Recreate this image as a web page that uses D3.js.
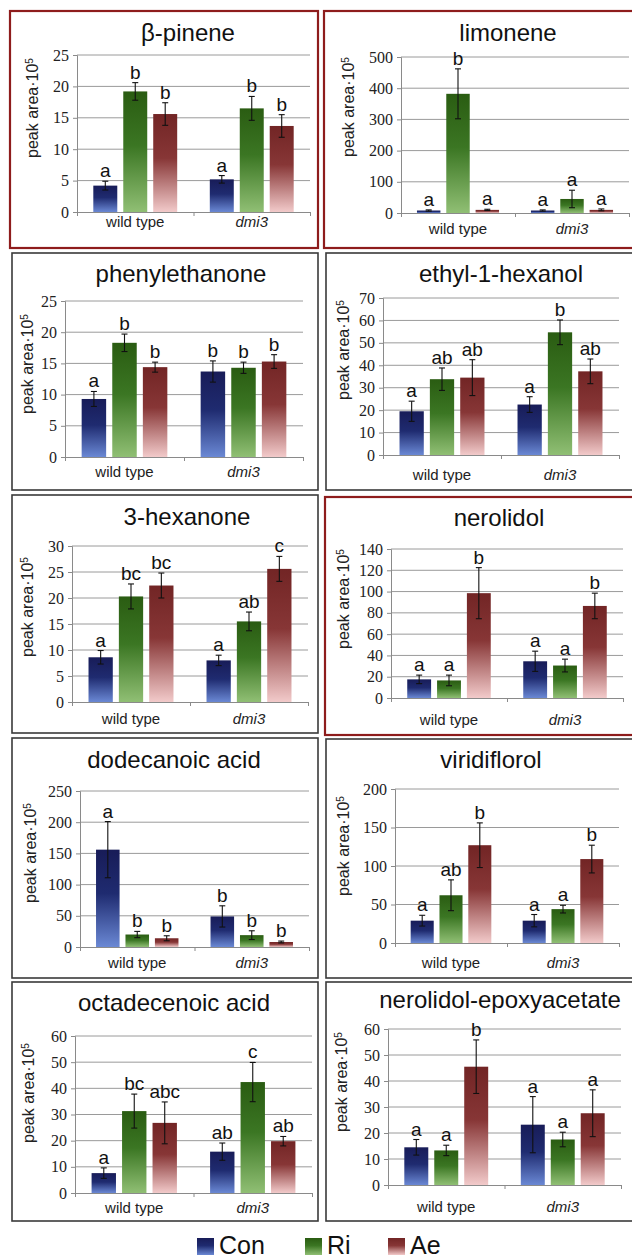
<!DOCTYPE html>
<html>
<head>
<meta charset="utf-8">
<script src="https://cdn.jsdelivr.net/npm/d3@7"></script>
<style>
  body { margin: 0; background: #fff; }
  svg { display: block; }
</style>
</head>
<body>
<div id="chart"></div>
<script>
// groups on the x axis and the three treatments
var categories = ["wild type", "dmi3"];
var series = ["Con", "Ri", "Ae"];

var compounds = ["β-pinene", "limonene", "phenylethanone", "ethyl-1-hexanol", "3-hexanone",
  "nerolidol", "dodecanoic acid", "viridiflorol", "octadecenoic acid", "nerolidol-epoxyacetate"];

var yMax = [25, 500, 25, 70, 30, 140, 250, 200, 60, 60];
var yStep = [5, 100, 5, 10, 5, 20, 50, 50, 10, 10];

// means: wild type Con, Ri, Ae, then dmi3 Con, Ri, Ae
var means = [
  [4.2, 19.2, 15.6, 5.2, 16.5, 13.7],
  [8, 382, 10, 8, 45, 10],
  [9.3, 18.3, 14.4, 13.7, 14.3, 15.3],
  [19.5, 33.8, 34.5, 22.5, 54.7, 37.3],
  [8.6, 20.3, 22.4, 8.0, 15.5, 25.6],
  [17.5, 16.5, 98.5, 34.5, 30.5, 86.5],
  [156, 20, 14, 49, 19, 8],
  [29, 62, 127, 29, 44, 109],
  [7.6, 31.3, 26.8, 15.8, 42.4, 19.8],
  [14.5, 13.3, 45.5, 23.2, 17.5, 27.6]
];
var errors = [
  [0.7, 1.4, 1.8, 0.6, 1.9, 1.8],
  [2, 80, 2, 2, 28, 3],
  [1.2, 1.4, 0.8, 1.7, 0.9, 1.1],
  [4.5, 5, 8, 3.5, 5.5, 5.5],
  [1.3, 2.4, 2.4, 1.0, 1.8, 2.4],
  [4, 5, 24, 9.5, 6, 12],
  [45, 5, 4, 17, 7, 1.5],
  [7, 20, 29, 8, 5, 18],
  [2, 6.5, 8, 3.3, 7.5, 1.8],
  [3, 2, 10.3, 10.8, 2.8, 9]
];
var letters = [
  ["a", "b", "b", "a", "b", "b"],
  ["a", "b", "a", "a", "a", "a"],
  ["a", "b", "b", "b", "b", "b"],
  ["a", "ab", "ab", "a", "b", "ab"],
  ["a", "bc", "bc", "a", "ab", "c"],
  ["a", "a", "b", "a", "a", "b"],
  ["a", "b", "b", "b", "b", "b"],
  ["a", "ab", "b", "a", "a", "b"],
  ["a", "bc", "abc", "ab", "c", "ab"],
  ["a", "a", "b", "a", "a", "a"]
];

// layout per panel: box [x,y,w,h], plot [l,t,r,b], title [x,y], y label [x,y], category label offset, red frame
var layout = [
  {box: [10, 11, 308, 237], plot: [77, 55, 310, 212], title: [188, 41], ylab: [32, 108], cat: 15, red: true},
  {box: [324, 11, 312, 237], plot: [401, 57, 629, 213], title: [508, 41], ylab: [348, 107], cat: 21, red: true},
  {box: [12, 253, 306, 237], plot: [65, 301, 303, 457], title: [181, 282], ylab: [27, 364], cat: 20, red: false},
  {box: [326, 253, 310, 237], plot: [383, 298, 619, 455], title: [501, 282], ylab: [343, 350], cat: 25, red: false},
  {box: [12, 495, 306, 238], plot: [72, 546, 308, 702], title: [187, 525], ylab: [27, 607], cat: 22, red: false},
  {box: [325, 497, 311, 238], plot: [391, 549, 623, 698], title: [499, 526], ylab: [343, 599], cat: 27, red: true},
  {box: [12, 738, 306, 240], plot: [80, 791, 309, 947], title: [174, 768], ylab: [30, 853], cat: 21, red: false},
  {box: [326, 739, 310, 239], plot: [395, 789, 619, 943], title: [491, 768], ylab: [343, 846], cat: 25, red: false},
  {box: [12, 982, 306, 239], plot: [75, 1036, 312, 1193], title: [174, 1011], ylab: [28, 1093], cat: 20, red: false},
  {box: [326, 982, 310, 239], plot: [388, 1029, 621, 1185], title: [500, 1008], ylab: [341, 1082], cat: 27, red: false}
];

var gradColors = {
  Con: ["#181c58", "#1f2b70", "#6a88d4"],
  Ri: ["#2a5c12", "#3b7623", "#90bf74"],
  Ae: ["#722525", "#873636", "#f2caca"]
};

var W = 632, H = 1260;
var sans = "'Liberation Sans', Arial, sans-serif";
var serif = "'Liberation Serif', 'Times New Roman', serif";

var svg = d3.select("#chart").append("svg")
  .attr("width", W)
  .attr("height", H);

var defs = svg.append("defs");
series.forEach(function(s) {
  var g = defs.append("linearGradient")
    .attr("id", "grad-" + s)
    .attr("x1", 0).attr("y1", 0).attr("x2", 0).attr("y2", 1);
  g.append("stop").attr("offset", "0%").attr("stop-color", gradColors[s][0]);
  g.append("stop").attr("offset", "45%").attr("stop-color", gradColors[s][1]);
  g.append("stop").attr("offset", "100%").attr("stop-color", gradColors[s][2]);
});

function styleAxis(sel) {
  sel.attr("font-family", serif).attr("font-size", 16);
  sel.select(".domain").attr("stroke", "#8a8a8a");
  sel.selectAll(".tick line").attr("stroke", "#8a8a8a");
  sel.selectAll(".tick text")
    .style("font-family", serif)
    .style("font-size", "16px")
    .style("fill", "#222");
}

compounds.forEach(function(name, p) {
  var L = layout[p];
  var pl = L.plot[0], pt = L.plot[1], pr = L.plot[2], pb = L.plot[3];
  var g = svg.append("g");

  // frame
  g.append("rect")
    .attr("x", L.box[0]).attr("y", L.box[1])
    .attr("width", L.box[2]).attr("height", L.box[3])
    .attr("fill", "none")
    .attr("stroke", L.red ? "#8e1c1c" : "#3a3a3a")
    .attr("stroke-width", L.red ? 2.2 : 1.6);

  g.append("text")
    .attr("x", L.title[0]).attr("y", L.title[1])
    .attr("text-anchor", "middle")
    .style("font-family", sans).style("font-size", "24px").style("fill", "#111")
    .text(name);

  var y = d3.scaleLinear().domain([0, yMax[p]]).range([pb, pt]);
  var x0 = d3.scaleBand().domain(categories).range([pl, pr]);
  var bw = x0.bandwidth();
  var x1 = d3.scaleBand().domain(series).range([bw * 0.14, bw * 0.86]).paddingInner(0.2);
  var tickVals = d3.range(0, yMax[p] + yStep[p] / 2, yStep[p]);

  // gridlines
  g.append("g").selectAll("line")
    .data(tickVals.slice(1))
    .join("line")
    .attr("x1", pl).attr("x2", pr)
    .attr("y1", function(d) { return y(d); })
    .attr("y2", function(d) { return y(d); })
    .attr("stroke", "#9a9a9a")
    .attr("stroke-width", 1);

  g.append("g")
    .attr("transform", "translate(" + pl + ",0)")
    .call(d3.axisLeft(y).tickValues(tickVals).tickSize(4).tickPadding(4))
    .call(styleAxis);

  var xl = d3.scaleLinear().domain([0, categories.length]).range([pl, pr]);
  g.append("g")
    .attr("transform", "translate(0," + pb + ")")
    .call(d3.axisBottom(xl).tickValues(d3.range(0, categories.length + 1)).tickSize(4).tickFormat(""))
    .call(styleAxis);

  // category labels
  g.append("g").selectAll("text")
    .data(categories)
    .join("text")
    .attr("x", function(d) { return x0(d) + bw / 2; })
    .attr("y", pb + L.cat)
    .attr("text-anchor", "middle")
    .style("font-family", sans).style("font-size", "15px").style("fill", "#222")
    .style("font-style", function(d) { return d === "dmi3" ? "italic" : "normal"; })
    .text(function(d) { return d; });

  // y label
  var yl = g.append("text")
    .attr("transform", "translate(" + L.ylab[0] + "," + L.ylab[1] + ") rotate(-90)")
    .attr("text-anchor", "middle")
    .attr("dy", "0.35em")
    .style("font-family", sans).style("font-size", "16px").style("fill", "#222");
  yl.append("tspan").text("peak area·10");
  yl.append("tspan").attr("baseline-shift", "super").style("font-size", "10px").text("5");

  var rows = [];
  categories.forEach(function(c, ci) {
    series.forEach(function(s, si) {
      var k = ci * series.length + si;
      rows.push({cat: c, s: s, v: means[p][k], e: errors[p][k], l: letters[p][k]});
    });
  });

  var bx = function(d) { return x0(d.cat) + x1(d.s); };
  var w = x1.bandwidth();

  g.append("g").selectAll("rect")
    .data(rows)
    .join("rect")
    .attr("x", bx)
    .attr("y", function(d) { return y(d.v); })
    .attr("width", w)
    .attr("height", function(d) { return pb - y(d.v); })
    .attr("fill", function(d) { return "url(#grad-" + d.s + ")"; });

  var eb = g.append("g").attr("stroke", "#111").attr("stroke-width", 1.1);
  eb.selectAll(".v").data(rows).join("line").attr("class", "v")
    .attr("x1", function(d) { return bx(d) + w / 2; })
    .attr("x2", function(d) { return bx(d) + w / 2; })
    .attr("y1", function(d) { return y(Math.max(0, d.v - d.e)); })
    .attr("y2", function(d) { return y(d.v + d.e); });
  eb.selectAll(".t").data(rows).join("line").attr("class", "t")
    .attr("x1", function(d) { return bx(d) + w / 2 - 3; })
    .attr("x2", function(d) { return bx(d) + w / 2 + 3; })
    .attr("y1", function(d) { return y(d.v + d.e); })
    .attr("y2", function(d) { return y(d.v + d.e); });
  eb.selectAll(".b").data(rows).join("line").attr("class", "b")
    .attr("x1", function(d) { return bx(d) + w / 2 - 3; })
    .attr("x2", function(d) { return bx(d) + w / 2 + 3; })
    .attr("y1", function(d) { return y(Math.max(0, d.v - d.e)); })
    .attr("y2", function(d) { return y(Math.max(0, d.v - d.e)); });

  g.append("g").selectAll("text")
    .data(rows)
    .join("text")
    .attr("x", function(d) { return bx(d) + w / 2; })
    .attr("y", function(d) { return y(d.v + d.e) - 4; })
    .attr("text-anchor", "middle")
    .style("font-family", sans).style("font-size", "19px").style("fill", "#111")
    .text(function(d) { return d.l; });
});

// legend
var legX = [197, 305, 388];
var leg = svg.append("g").selectAll("g")
  .data(series)
  .join("g")
  .attr("transform", function(d, i) { return "translate(" + legX[i] + ",1238)"; });
leg.append("rect")
  .attr("width", 17).attr("height", 17)
  .attr("fill", function(d) { return "url(#grad-" + d + ")"; });
leg.append("text")
  .attr("x", 22).attr("y", 16)
  .style("font-family", sans).style("font-size", "25px").style("fill", "#111")
  .text(function(d) { return d; });
</script>
</body>
</html>
